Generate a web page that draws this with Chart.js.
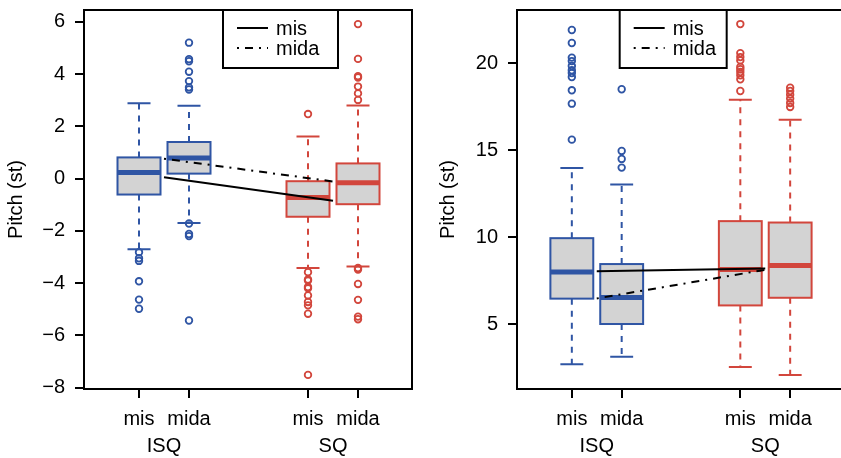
<!DOCTYPE html>
<html>
<head>
<meta charset="utf-8">
<script src="https://cdn.jsdelivr.net/npm/chart.js@4/dist/chart.umd.min.js"></script>
<style>
  html, body { margin: 0; padding: 0; background: #fff; overflow: hidden; width: 841px; height: 458px; }
  #left { position: absolute; left: 0; top: 0; }
  #right { position: absolute; left: 420px; top: 0; }
</style>
</head>
<body>
<canvas id="left" width="420" height="458"></canvas>
<canvas id="right" width="440" height="458"></canvas>
<script>
// box positions on the x axis and their labels
const positions = [1, 2, 4.38, 5.38];
const conditions = ['mis', 'mida', 'mis', 'mida'];
const groups = ['ISQ', 'SQ'];
const groupCenters = [1.5, 4.88];
const seriesNames = ['mis', 'mida'];

// left panel
const leftTicks = [-8, -6, -4, -2, 0, 2, 4, 6];
const leftLow = [-2.70, -1.70, -3.42, -3.36];
const leftQ1 = [-0.61, 0.19, -1.46, -0.98];
const leftMedian = [0.23, 0.79, -0.72, -0.16];
const leftQ3 = [0.81, 1.40, -0.10, 0.58];
const leftHigh = [2.88, 2.79, 1.61, 2.80];
const leftOutliers = [
  [-2.82, -3.05, -3.15, -3.93, -4.63, -4.98],
  [5.20, 4.57, 4.49, 4.09, 3.73, 3.49, 3.41, -1.72, -2.12, -2.20, -5.43],
  [2.47, -3.58, -3.86, -3.90, -4.15, -4.20, -4.47, -4.72, -4.85, -5.17, -7.51],
  [5.91, 4.58, 3.92, 3.87, 3.52, 3.26, 3.01, -3.42, -3.48, -4.03, -4.64, -5.28, -5.38]
];
const leftMis = [0.05, -0.85];
const leftMida = [0.76, -0.11];

// right panel
const rightTicks = [5, 10, 15, 20];
const rightLow = [2.68, 3.12, 2.53, 2.07];
const rightQ1 = [6.46, 5.00, 6.07, 6.51];
const rightMedian = [7.99, 6.53, 8.14, 8.37];
const rightQ3 = [9.94, 8.45, 10.92, 10.84];
const rightHigh = [13.98, 13.03, 17.91, 16.76];
const rightOutliers = [
  [21.92, 21.17, 20.33, 20.13, 19.85, 19.60, 19.44, 19.21, 18.45, 17.68, 15.61],
  [18.51, 14.96, 14.50, 14.00],
  [22.26, 20.59, 20.36, 20.17, 19.79, 19.66, 19.50, 19.31, 19.08, 18.41],
  [18.60, 18.41, 18.20, 17.97, 17.72, 17.49]
];
const rightMis = [8.03, 8.20];
const rightMida = [6.47, 8.12];

const BLUE = '#2f55a4';
const RED = '#d2463c';
const boxColors = [BLUE, BLUE, RED, RED];

Chart.defaults.font.family = "'Liberation Sans', Arial, Helvetica, sans-serif";
Chart.defaults.font.size = 20;
Chart.defaults.color = '#000';

// draws whiskers, boxes and medians under the datasets
const boxplotPlugin = {
  id: 'boxplot',
  beforeDatasetsDraw(chart, args, opts) {
    const { ctx, scales: { x, y } } = chart;
    const halfBox = 0.43, halfStaple = 0.23;
    ctx.save();
    opts.q1.forEach((q1, i) => {
      const c = boxColors[i];
      const px = x.getPixelForValue(opts.positions[i]);
      const bl = x.getPixelForValue(opts.positions[i] - halfBox);
      const br = x.getPixelForValue(opts.positions[i] + halfBox);
      const sl = x.getPixelForValue(opts.positions[i] - halfStaple);
      const sr = x.getPixelForValue(opts.positions[i] + halfStaple);
      const yLow = y.getPixelForValue(opts.low[i]);
      const yQ1 = y.getPixelForValue(q1);
      const yMed = y.getPixelForValue(opts.median[i]);
      const yQ3 = y.getPixelForValue(opts.q3[i]);
      const yHigh = y.getPixelForValue(opts.high[i]);
      ctx.strokeStyle = c;
      ctx.lineWidth = 2;
      // whiskers
      ctx.setLineDash([6, 6]);
      ctx.beginPath();
      ctx.moveTo(px, yQ3); ctx.lineTo(px, yHigh);
      ctx.moveTo(px, yQ1); ctx.lineTo(px, yLow);
      ctx.stroke();
      ctx.setLineDash([]);
      ctx.beginPath();
      ctx.moveTo(sl, yHigh); ctx.lineTo(sr, yHigh);
      ctx.moveTo(sl, yLow); ctx.lineTo(sr, yLow);
      ctx.stroke();
      // box
      ctx.fillStyle = '#d3d3d3';
      ctx.fillRect(bl, yQ3, br - bl, yQ1 - yQ3);
      ctx.strokeRect(bl, yQ3, br - bl, yQ1 - yQ3);
      // median
      ctx.lineWidth = 5;
      ctx.beginPath();
      ctx.moveTo(bl, yMed); ctx.lineTo(br, yMed);
      ctx.stroke();
    });
    ctx.restore();
  },
  afterDraw(chart, args, opts) {
    const { ctx, chartArea: a, scales: { x } } = chart;
    ctx.save();
    // plot frame
    ctx.strokeStyle = '#000';
    ctx.lineWidth = 2;
    ctx.strokeRect(a.left, a.top, a.right - a.left, a.bottom - a.top);
    // legend box inside the plot, from the line datasets
    const lx = x.getPixelForValue(opts.legendX);
    const lw = opts.legendWidth, lh = 58;
    ctx.fillStyle = '#fff';
    ctx.fillRect(lx, a.top, lw, lh);
    ctx.strokeRect(lx, a.top, lw, lh);
    const lines = chart.data.datasets.filter(d => d.type === 'line');
    ctx.font = "20px 'Liberation Sans', Arial, sans-serif";
    ctx.textBaseline = 'middle';
    ctx.textAlign = 'left';
    lines.forEach((d, i) => {
      const ly = a.top + 18 + i * 20;
      ctx.strokeStyle = d.borderColor;
      ctx.lineWidth = 2;
      ctx.setLineDash(d.borderDash || []);
      ctx.beginPath();
      ctx.moveTo(lx + 14, ly); ctx.lineTo(lx + 45, ly);
      ctx.stroke();
      ctx.setLineDash([]);
      ctx.fillStyle = '#000';
      ctx.fillText(d.label, lx + 53, ly + 1);
    });
    ctx.restore();
  }
};

// keep the plot area where the reference has it
function noPad(s) {
  s.paddingTop = 0; s.paddingBottom = 0; s.paddingLeft = 0; s.paddingRight = 0;
}

function makePanel(id, p) {
  const datasets = [];
  p.outliers.forEach((vals, i) => {
    datasets.push({
      type: 'scatter',
      label: 'outliers ' + i,
      data: vals.map(v => ({ x: positions[i], y: v })),
      pointStyle: 'circle',
      pointRadius: 3.3,
      pointBorderWidth: 1.8,
      pointBackgroundColor: 'rgba(0,0,0,0)',
      pointBorderColor: boxColors[i]
    });
  });
  [p.mis, p.mida].forEach((vals, k) => {
    datasets.push({
      type: 'line',
      label: seriesNames[k],
      data: vals.map((v, j) => ({ x: groupCenters[j], y: v })),
      borderColor: '#000',
      borderWidth: 2,
      borderDash: k === 1 ? [2, 6, 8, 6] : undefined,
      pointRadius: 0,
      fill: false
    });
  });

  const tickGrid = { display: true, drawOnChartArea: false, drawTicks: true, tickLength: 9, lineWidth: 2, color: '#000' };

  return new Chart(document.getElementById(id), {
    data: { datasets },
    options: {
      responsive: false,
      animation: false,
      events: [],
      layout: { padding: p.padding },
      scales: {
        x: {
          type: 'linear', position: 'bottom', min: -0.1, max: 6.46,
          grid: tickGrid,
          border: { display: false },
          afterBuildTicks: s => { s.ticks = positions.map(v => ({ value: v })); },
          afterFit: s => { s.height = 40; noPad(s); },
          ticks: { autoSkip: false, maxRotation: 0, padding: 9, callback: (v, i) => conditions[i] }
        },
        x2: {
          type: 'linear', position: 'bottom', min: -0.1, max: 6.46,
          grid: { display: false },
          border: { display: false },
          afterBuildTicks: s => { s.ticks = groupCenters.map(v => ({ value: v })); },
          afterFit: s => { s.height = 29; noPad(s); },
          ticks: { autoSkip: false, maxRotation: 0, padding: -3, callback: (v, i) => groups[i] }
        },
        y: {
          type: 'linear', min: p.yMin, max: p.yMax,
          grid: tickGrid,
          border: { display: false },
          afterBuildTicks: s => { s.ticks = p.ticks.map(v => ({ value: v })); },
          afterFit: s => { s.width = p.yWidth; noPad(s); },
          ticks: { padding: 10, callback: v => (v < 0 ? '\u2212' + Math.abs(v) : String(v)) },
          title: { display: true, text: 'Pitch (st)', font: { size: 20 }, padding: { top: 4, bottom: 4 } }
        }
      },
      plugins: {
        legend: { display: false },
        tooltip: { enabled: false },
        boxplot: {
          positions,
          low: p.low, q1: p.q1, median: p.median, q3: p.q3, high: p.high,
          legendX: p.legendX, legendWidth: p.legendWidth
        }
      }
    },
    plugins: [boxplotPlugin]
  });
}

makePanel('left', {
  low: leftLow, q1: leftQ1, median: leftMedian, q3: leftQ3, high: leftHigh,
  outliers: leftOutliers, mis: leftMis, mida: leftMida,
  ticks: leftTicks, yMin: -8.05, yMax: 6.45,
  padding: { left: 0, top: 10, right: 8, bottom: 0 }, yWidth: 84,
  legendX: 2.68, legendWidth: 115
});

makePanel('right', {
  low: rightLow, q1: rightQ1, median: rightMedian, q3: rightQ3, high: rightHigh,
  outliers: rightOutliers, mis: rightMis, mida: rightMida,
  ticks: rightTicks, yMin: 1.26, yMax: 23.07,
  padding: { left: 12, top: 10, right: 16, bottom: 0 }, yWidth: 85,
  legendX: 1.96, legendWidth: 107
});
</script>
</body>
</html>
